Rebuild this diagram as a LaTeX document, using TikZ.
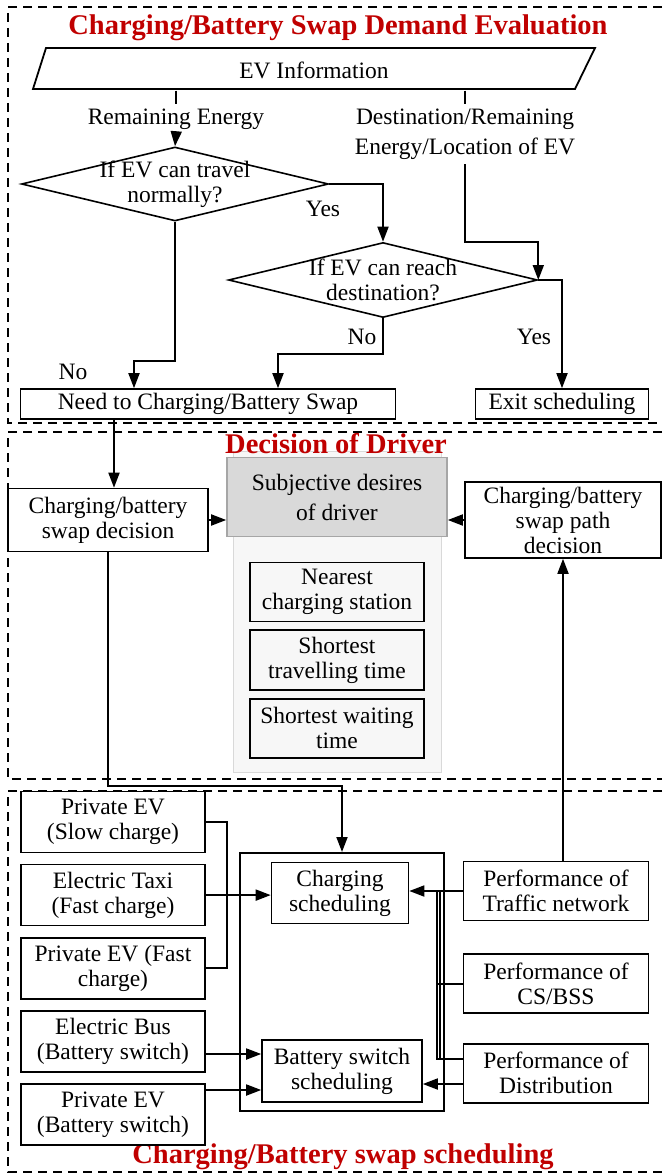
\documentclass[tikz,border=0pt]{standalone}
\usepackage{fontspec}
\setmainfont{Liberation Serif}
\usepackage{tikz}
\usetikzlibrary{positioning,shapes.geometric,arrows.meta}
\definecolor{titlered}{HTML}{C00000}
\definecolor{subjgray}{HTML}{D9D9D9}

\begin{document}
\begin{tikzpicture}[x=1pt, y=-1pt,
    every node/.style={font=\fontsize{23.5}{25}\selectfont, align=center, inner sep=0pt},
    box/.style={draw, line width=1.6pt, fill=white},
    choice/.style={diamond, draw, line width=1.6pt},
    frame/.style={line width=1.2pt, dash pattern=on 9pt off 6pt},
    heading/.style={text=titlered, font=\bfseries\fontsize{28.5}{30}\selectfont},
    arr/.style={-{Triangle[length=15pt,width=11pt]}, line width=1.8pt},
    link/.style={line width=1.8pt}]
        \useasboundingbox (0,0) rectangle (662,1174);

        % Frames
        \draw[frame] (662,7) -- (8,7) -- (8,423) -- (662,423);
        \draw[frame] (662,432) -- (8,432) -- (8,779) -- (662,779);
        \draw[frame] (662,791) -- (8,791) -- (8,1172) -- (662,1172);

        % Demand evaluation
        \node[heading] (title1) at (338,28) {Charging/Battery Swap Demand Evaluation};
        \draw[link] (33,89) -- (46,48) -- (595,48) -- (575,89) -- cycle;
        \node[minimum width=520pt, minimum height=41pt] (evinfo) at (314,70) {EV Information};
        \node[minimum height=30pt] (energy) at (176,119) {Remaining Energy};
        \node[minimum height=60pt] (dest) at (465,134) {Destination/Remaining\\[5pt]Energy/Location of EV};
        \node[choice, minimum width=307pt, minimum height=74pt, label={center:{If EV can travel\\normally?}}] (travel) at (175,184) {};
        \node[choice, minimum width=309pt, minimum height=75pt, label={center:{If EV can reach\\destination?}}] (reach) at (383,280) {};
        \node[box, minimum width=375pt, minimum height=30pt] (need) at (208,404) {Need to Charging/Battery Swap};
        \node[box, minimum width=173pt, minimum height=30pt] (exit) at (562,404) {Exit scheduling};
        \node (yes1) at (323,209) {Yes};
        \node (yes2) at (534,337) {Yes};
        \node (no1) at (73,372) {No};
        \node (no2) at (362,337) {No};

        \draw[link] (evinfo.south -| energy) -- (energy.north);
        \draw[arr] (energy.south) -- (travel.north);
        \draw[link] (evinfo.south -| dest) -- (dest.north);
        \draw[arr] (dest.south) |- (reach.north -| reach.east) -- (reach.east);
        \draw[arr] (travel.east) -| (reach.north);
        \draw[arr] (reach.east) -| (exit.north);
        \draw[arr] (reach.south) -- ++(0,36) -| ([xshift=70pt]need.north);
        \draw[arr] (travel.south) -- ++(0,139) -| ([xshift=-74pt]need.north);

        % Decision of driver
        \node[draw=gray!30, fill=gray!6, line width=1pt, minimum width=208pt, minimum height=321pt] (panel) at (337,612) {};
        \node[box, draw=gray!70, fill=subjgray, minimum width=220pt, minimum height=79pt] (subj) at (337,497) {Subjective desires\\[5pt]of driver};
        \node[heading] (title2) at (336,444) {Decision of Driver};
        \node[box, fill=gray!6, minimum width=174pt, minimum height=59pt] (nearest) at (337,592) {Nearest\\charging station};
        \node[box, fill=gray!6, minimum width=174pt, minimum height=60pt, below=7pt of nearest] (shorttravel) {Shortest\\travelling time};
        \node[box, fill=gray!6, minimum width=174pt, minimum height=59pt, below=7pt of shorttravel] (shortwait) {Shortest waiting\\time};
        \node[box, minimum width=200pt, minimum height=63pt] (cbdec) at (108,520) {Charging/battery\\swap decision};
        \node[box, minimum width=196pt, minimum height=76pt] (pathdec) at (563,520) {Charging/battery\\swap path\\decision};

        \coordinate (cbin) at ([xshift=6pt]cbdec.north);
        \draw[arr] (need.south -| cbin) -- (cbin);
        \draw[arr] (cbdec.east) -- (subj.west |- cbdec.east);
        \draw[arr] (pathdec.west) -- (subj.east |- pathdec.west);

        % Scheduling
        \node[heading] (title3) at (343,1157) {Charging/Battery swap scheduling};
        \node[draw, line width=2pt, minimum width=204pt, minimum height=258pt] (sched) at (342,982) {};
        \node[box, minimum width=137pt, minimum height=61pt] (chsched) at (340,893) {Charging\\scheduling};
        \node[box, minimum width=160pt, minimum height=62pt] (bssched) at (342,1071) {Battery switch\\scheduling};

        \node[box, minimum width=184pt, minimum height=61pt] (slowev) at (113,822) {Private EV\\(Slow charge)};
        \node[box, minimum width=184pt, minimum height=61pt, below=10.5pt of slowev] (taxi) {Electric Taxi\\(Fast charge)};
        \node[box, minimum width=184pt, minimum height=61pt, below=10.5pt of taxi] (fastev) {Private EV (Fast\\charge)};
        \node[box, minimum width=184pt, minimum height=61pt, below=10.5pt of fastev] (bus) {Electric Bus\\(Battery switch)};
        \node[box, minimum width=184pt, minimum height=61pt, below=10.5pt of bus] (swapev) {Private EV\\(Battery switch)};

        \node[box, minimum width=185pt, minimum height=59pt] (traffic) at (556,891) {Performance of\\Traffic network};
        \node[box, minimum width=185pt, minimum height=59pt, below=32pt of traffic] (csbss) {Performance of\\CS/BSS};
        \node[box, minimum width=185pt, minimum height=59pt, below=29pt of csbss] (dist) {Performance of\\Distribution};

        \draw[arr] (cbdec.south) -- ++(0,234) -| (sched.north);
        \draw[arr] (pathdec.south |- traffic.north) -- (pathdec.south);
        \draw[link] (slowev.east) -- ++(21,0) |- (fastev.east);
        \draw[arr] (taxi.east) -- (chsched.west |- taxi.east);
        \coordinate (bsin1) at ([yshift=17pt]bssched.west);
        \coordinate (bsin2) at ([yshift=-19pt]bssched.west);
        \draw[arr] (bus.east |- bsin1) -- (bsin1);
        \draw[arr] (swapev.east |- bsin2) -- (bsin2);
        \draw[arr] (traffic.west) -- (chsched.east |- traffic.west);
        \coordinate (bsout) at ([yshift=-13pt]bssched.east);
        \draw[arr] (dist.west |- bsout) -- (bsout);
        \coordinate (distup) at ([yshift=14pt]dist.west);
        \draw[link] (distup) -| ([xshift=-26pt]traffic.west);
        \draw[link] ([xshift=-23pt]distup) -- ([xshift=-23pt]traffic.west);
        \draw[link] (csbss.west) -- ++(-26,0);
    \end{tikzpicture}
\end{document}
